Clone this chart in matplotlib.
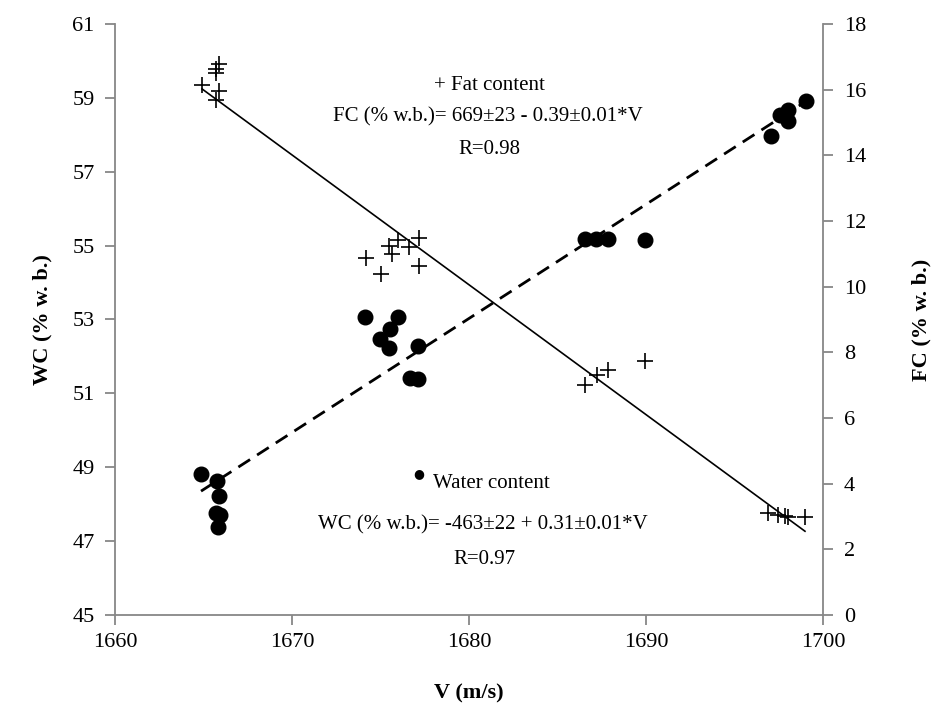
import numpy as np
import matplotlib.pyplot as plt
from matplotlib.transforms import Affine2D

plt.rcParams['font.family'] = ['Liberation Serif', 'DejaVu Serif']

# water content (left axis)
v_wc = [1664.84, 1665.72, 1665.88, 1665.70, 1665.90, 1665.80,
        1674.12, 1674.95, 1675.48, 1675.55, 1675.97, 1676.65, 1677.12, 1677.12,
        1686.55, 1687.17, 1687.86, 1689.94,
        1697.04, 1697.57, 1698.04, 1698.04, 1699.04]
wc = [48.83, 48.63, 48.22, 47.75, 47.72, 47.39,
      53.06, 52.47, 52.23, 52.74, 53.08, 51.42, 52.28, 51.40,
      55.17, 55.17, 55.17, 55.15,
      57.98, 58.54, 58.67, 58.36, 58.92]

# fat content (right axis)
v_fc = [1664.90, 1665.88, 1665.69, 1665.70, 1665.88, 1665.69,
        1674.17, 1675.00, 1675.48, 1675.62, 1676.00, 1676.62, 1677.18, 1677.15,
        1686.55, 1687.20, 1687.86, 1689.94,
        1696.90, 1697.47, 1697.85, 1698.04, 1698.98]
fc = [16.14, 16.77, 16.62, 16.51, 15.96, 15.67,
      10.86, 10.37, 11.24, 10.98, 11.42, 11.21, 11.49, 10.63,
      7.00, 7.31, 7.46, 7.74,
      3.10, 3.04, 3.01, 2.99, 2.99]

x_ticks = [1660, 1670, 1680, 1690, 1700]
wc_ticks = [45, 47, 49, 51, 53, 55, 57, 59, 61]
fc_ticks = [0, 2, 4, 6, 8, 10, 12, 14, 16, 18]

spine_col = '#878787'

fig = plt.figure(figsize=(9.36, 7.05), dpi=100)
ax = fig.add_axes([0.1233, 0.1277, 0.8793 - 0.1233, 0.966 - 0.1277])
ax2 = ax.twinx()

ax.plot(v_wc, wc, 'o', color='black', markersize=10.5, zorder=3)
ax2.plot(v_fc, fc, '+', color='black', markersize=11, markeredgewidth=1.2, zorder=3)

# linear trendlines
p_wc = np.polyfit(v_wc, wc, 1)
xs = np.array([min(v_wc), max(v_wc)])
ax.plot(xs, np.polyval(p_wc, xs), color='black', lw=2.0, dashes=(5, 3))

p_fc = np.polyfit(v_fc, fc, 1)
xs = np.array([min(v_fc), max(v_fc)])
ax2.plot(xs, np.polyval(p_fc, xs), color='black', lw=1.2)

ax.set_xlim(1660, 1700)
ax.set_ylim(45, 61)
ax2.set_ylim(0, 18)
ax.set_xticks(x_ticks)
ax.set_yticks(wc_ticks)
ax2.set_yticks(fc_ticks)

for a in (ax, ax2):
    for s in a.spines.values():
        s.set_color(spine_col)
        s.set_linewidth(1.3)
    a.spines['top'].set_visible(False)
    a.tick_params(colors=spine_col, labelcolor='black', labelsize=16,
                  length=7, width=1.3, direction='out')
ax.spines['right'].set_visible(False)
ax2.spines['left'].set_visible(False)
ax2.spines['bottom'].set_visible(False)
ax.tick_params(axis='y', pad=8)
ax2.tick_params(axis='y', pad=8)
ax.tick_params(axis='x', pad=6)

ax.set_xlabel('V (m/s)', fontsize=16, fontweight='bold', labelpad=23)
ax.set_ylabel('WC (% w. b.)', fontsize=16, fontweight='bold', labelpad=14.5)
ax2.set_ylabel('FC (% w. b.)', fontsize=16, fontweight='bold', labelpad=33)

# annotations placed in pixel coordinates measured from the top-left
px = Affine2D().scale(1, -1).translate(0, 705)
fs = 15
ax.text(489, 85, '+ Fat content', transform=px, fontsize=fs, ha='center', va='center')
ax.text(488, 117, 'FC (% w.b.)= 669±23 - 0.39±0.01*V', transform=px,
        fontsize=fs, ha='center', va='center')
ax.text(489, 150, 'R=0.98', transform=px, fontsize=fs, ha='center', va='center')

ax.text(419, 474, '●', transform=px, fontsize=9, ha='center', va='center',
        family=['DejaVu Sans'])
ax.text(433, 483, 'Water content', transform=px, fontsize=fs, ha='left', va='center')
ax.text(483, 525, 'WC (% w.b.)= -463±22 + 0.31±0.01*V', transform=px,
        fontsize=fs, ha='center', va='center')
ax.text(484, 559, 'R=0.97', transform=px, fontsize=fs, ha='center', va='center')

fig.savefig('out.png', dpi=100)
